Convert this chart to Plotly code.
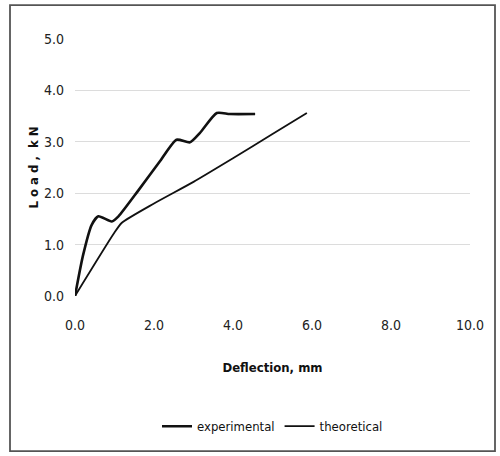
import plotly.graph_objects as go

# Load-deflection data (deflection in mm, load in kN)
exp_defl = [0.0, 0.2, 0.42, 0.59, 0.93, 1.1, 1.6, 2.15, 2.57, 2.91, 3.16, 3.59, 3.92, 4.56]
exp_load = [0.0, 0.78, 1.38, 1.55, 1.45, 1.55, 2.05, 2.62, 3.04, 2.99, 3.17, 3.56, 3.54, 3.54]

theo_defl = [0.0, 0.97, 1.18, 2.0, 3.0, 4.0, 5.0, 5.87]
theo_load = [0.0, 1.2, 1.42, 1.8, 2.22, 2.68, 3.15, 3.56]

x_ticks = [0, 2, 4, 6, 8, 10]
x_tick_labels = ["0.0", "2.0", "4.0", "6.0", "8.0", "10.0"]
y_ticks = [0, 1, 2, 3, 4, 5]
y_tick_labels = ["0.0", "1.0", "2.0", "3.0", "4.0", "5.0"]

FONT = "DejaVu Sans Condensed, Liberation Sans Narrow, Arial Narrow, sans-serif"

fig = go.Figure()
fig.add_trace(go.Scatter(
    x=exp_defl, y=exp_load, mode="lines", name="experimental",
    line=dict(color="#111111", width=2.6, shape="spline", smoothing=0.6),
))
fig.add_trace(go.Scatter(
    x=theo_defl, y=theo_load, mode="lines", name="theoretical",
    line=dict(color="#111111", width=1.8, shape="spline", smoothing=0.6),
))

# plot area: x 75..470 px, y 39..296.5 px
L, R, T, B = 75, 30, 39, 159.5
W, H = 500, 456
pw = W - L - R
ph = H - T - B


def px_x(p):
    return (p - L) / pw


def px_y(p):
    return (H - B - p) / ph


fig.add_shape(
    type="rect", xref="paper", yref="paper",
    x0=px_x(10), x1=px_x(495), y0=px_y(452), y1=px_y(5),
    line=dict(color="#555555", width=1.8), layer="below",
)

fig.update_layout(
    width=W, height=H,
    margin=dict(l=L, r=R, t=T, b=B),
    paper_bgcolor="white", plot_bgcolor="white",
    font=dict(family=FONT, color="#222222", size=13),
    showlegend=True,
    legend=dict(
        orientation="h", x=0.5, xanchor="center",
        y=px_y(427), yanchor="middle",
        font=dict(size=13, color="#111111"),
        itemwidth=30, tracegroupgap=0,
        bgcolor="rgba(0,0,0,0)",
    ),
    xaxis=dict(
        range=[0, 10], tickvals=x_ticks, ticktext=x_tick_labels,
        tickfont=dict(size=14),
        showgrid=False, zeroline=False, showline=False,
        ticklabelstandoff=19, fixedrange=True,
        title=dict(text="<b>Deflection, mm</b>", font=dict(size=13, color="#111111"),
                   standoff=30),
    ),
    yaxis=dict(
        range=[0, 5], tickvals=y_ticks, ticktext=y_tick_labels,
        tickfont=dict(size=14),
        showgrid=True, gridcolor="#dcdcdc", gridwidth=1,
        zeroline=False, showline=False,
        ticklabelstandoff=10, fixedrange=True,
        title=dict(text="<b>L o a d ,  k N</b>", font=dict(size=13, color="#111111"),
                   standoff=2),
    ),
)

fig.write_html("out.html")
